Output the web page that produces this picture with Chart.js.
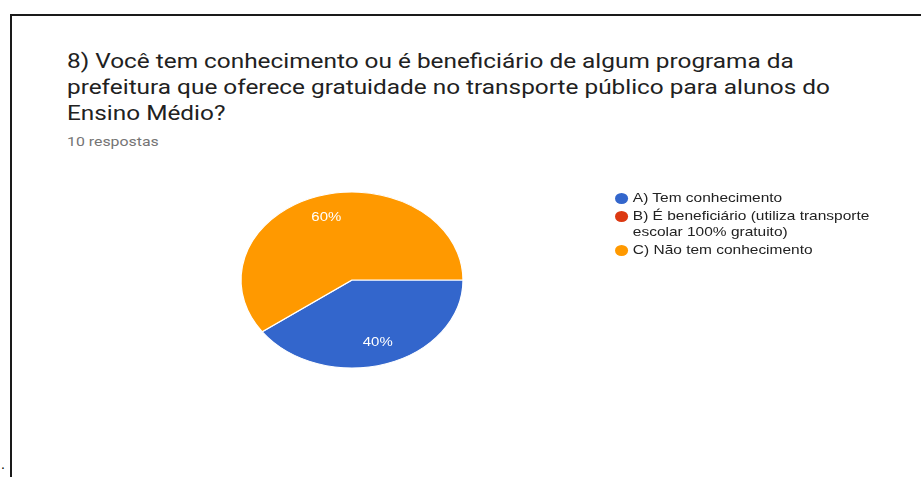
<!DOCTYPE html>
<html>
<head>
<meta charset="utf-8">
<script src="https://cdn.jsdelivr.net/npm/chart.js@4"></script>
<style>
  html, body { margin: 0; padding: 0; background: #fff; }
  body { width: 921px; height: 477px; position: relative; overflow: hidden; }
  .frame { position: absolute; left: 10px; top: 14px; right: -5px; bottom: -5px;
           border-top: 2px solid #1a1a1a; border-left: 2px solid #1a1a1a; }
  /* the reference screenshot is stretched horizontally, so the text is too */
  .title { position: absolute; left: 67px; top: 48px; font-family: Roboto, Arial, sans-serif;
           font-size: 21px; line-height: 26px; color: #212121; white-space: nowrap;
           transform: scaleX(1.16); transform-origin: 0 0; }
  .subtitle { position: absolute; left: 67px; top: 134px; font-family: Roboto, Arial, sans-serif;
              font-size: 13px; color: #757575; transform: scaleX(1.22); transform-origin: 0 0; }
  .dot { position: absolute; left: 1px; top: 456px; font-family: Arial, sans-serif; font-size: 14px; color: #000; }
  #chart-wrap { position: absolute; left: 0; top: 0; width: 921px; height: 477px; }
  .legend { position: absolute; left: 615px; top: 190px; font-family: "Liberation Sans", Arial, sans-serif;
            font-size: 13px; color: #222; transform: scaleX(1.19); transform-origin: 0 0; }
  .legend-item { position: relative; padding-left: 15px; line-height: 16px; margin-bottom: 2px; width: 205px; }
  .legend-item i { position: absolute; left: 0; top: 3px; width: 11px; height: 11px; border-radius: 50%; }
</style>
</head>
<body>
<div class="frame"></div>
<div class="title">8) Você tem conhecimento ou é beneficiário de algum programa da<br>prefeitura que oferece gratuidade no transporte público para alunos do<br>Ensino Médio?</div>
<div class="subtitle">10 respostas</div>
<div class="dot">.</div>
<div id="chart-wrap"><canvas id="pie-chart"></canvas></div>
<div class="legend" id="legend"></div>

<script>
const categories = ['A) Tem conhecimento', 'B) É beneficiário (utiliza transporte escolar 100% gratuito)', 'C) Não tem conhecimento'];
const responses = [4, 0, 6];
const sliceColors = ['#3366cc', '#dc3912', '#ff9900'];

// stretch factor: the reference pie is an ellipse, wider than tall
const stretchX = 111 / 88;

// HTML legend built from the same arrays
document.getElementById('legend').innerHTML = categories.map((c, i) =>
    `<div class="legend-item"><i style="background:${sliceColors[i]}"></i>${c}</div>`
).join('');

const ellipsePlugin = {
    id: 'ellipse',
    beforeDatasetsDraw(chart) {
        const arc = chart.getDatasetMeta(0).data[0];
        const ctx = chart.ctx;
        ctx.save();
        ctx.translate(arc.x, arc.y);
        ctx.scale(stretchX, 1);
        ctx.translate(-arc.x, -arc.y);
    },
    afterDatasetsDraw(chart) {
        chart.ctx.restore();
    }
};

const sliceLabels = {
    id: 'sliceLabels',
    afterDraw(chart) {
        const ctx = chart.ctx;
        const total = responses.reduce((a, b) => a + b, 0);
        ctx.fillStyle = '#ffffff';
        ctx.font = '13px "Liberation Sans", Arial, sans-serif';
        ctx.textAlign = 'center';
        ctx.textBaseline = 'middle';
        chart.getDatasetMeta(0).data.forEach((arc, i) => {
            if (!responses[i]) return;
            const mid = (arc.startAngle + arc.endAngle) / 2;
            const r = arc.outerRadius * 0.75;
            ctx.save();
            ctx.translate(arc.x + Math.cos(mid) * r * stretchX, arc.y + Math.sin(mid) * r);
            ctx.scale(1.15, 1);
            ctx.fillText(Math.round(responses[i] / total * 100) + '%', 0, 0);
            ctx.restore();
        });
    }
};

new Chart(document.getElementById('pie-chart'), {
    type: 'pie',
    data: {
        labels: categories,
        datasets: [{
            data: responses,
            backgroundColor: sliceColors,
            borderColor: '#ffffff',
            borderWidth: 1,
            radius: 88
        }]
    },
    options: {
        responsive: true,
        maintainAspectRatio: false,
        animation: false,
        rotation: 90,
        layout: { padding: { left: 0, right: 217, top: 83, bottom: 0 } },
        plugins: {
            legend: { display: false },
            tooltip: { enabled: false }
        }
    },
    plugins: [ellipsePlugin, sliceLabels]
});
</script>
</body>
</html>
